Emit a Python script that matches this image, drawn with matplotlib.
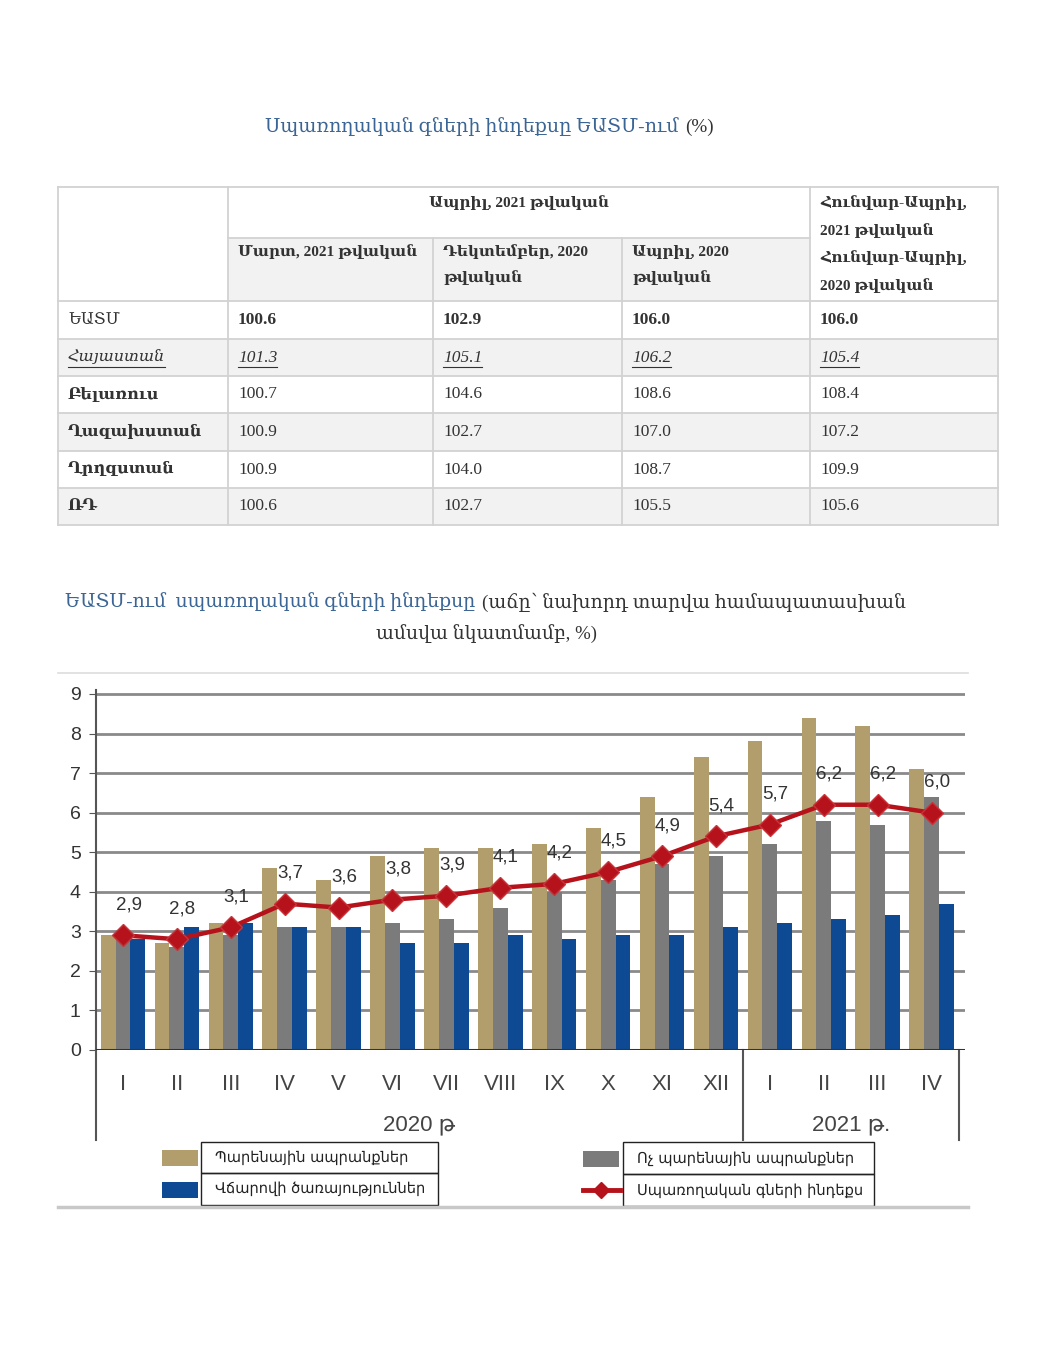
import matplotlib
matplotlib.use('Agg')
import matplotlib.pyplot as plt
from matplotlib import font_manager
from matplotlib.patches import Rectangle
from matplotlib.lines import Line2D

installed = {f.name for f in font_manager.fontManager.ttflist}


def fams(*names):
    found = [n for n in names if n in installed]
    return found or ['DejaVu Sans']


SERIF = fams('Liberation Serif', 'DejaVu Serif', 'DejaVu Sans')
NARROW = fams('Liberation Sans Narrow', 'Liberation Sans', 'DejaVu Sans')
SANS = fams('DejaVu Sans')

# --- table data ---
countries = ['ԵԱՏՄ', 'Հայաստան', 'Բելառուս', 'Ղազախստան', 'Ղրղզստան', 'ՌԴ']
vs_mar_2021 = [100.6, 101.3, 100.7, 100.9, 100.9, 100.6]
vs_dec_2020 = [102.9, 105.1, 104.6, 102.7, 104.0, 102.7]
vs_apr_2020 = [106.0, 106.2, 108.6, 107.0, 108.7, 105.5]
jan_apr = [106.0, 105.4, 108.4, 107.2, 109.9, 105.6]

# --- chart data ---
months = ['I', 'II', 'III', 'IV', 'V', 'VI', 'VII', 'VIII', 'IX', 'X', 'XI', 'XII',
          'I', 'II', 'III', 'IV']
food = [2.9, 2.7, 3.2, 4.6, 4.3, 4.9, 5.1, 5.1, 5.2, 5.6, 6.4, 7.4, 7.8, 8.4, 8.2, 7.1]
nonfood = [2.9, 2.6, 2.9, 3.1, 3.1, 3.2, 3.3, 3.6, 4.0, 4.3, 4.7, 4.9, 5.2, 5.8, 5.7, 6.4]
services = [2.8, 3.1, 3.2, 3.1, 3.1, 2.7, 2.7, 2.9, 2.8, 2.9, 2.9, 3.1, 3.2, 3.3, 3.4, 3.7]
cpi = [2.9, 2.8, 3.1, 3.7, 3.6, 3.8, 3.9, 4.1, 4.2, 4.5, 4.9, 5.4, 5.7, 6.2, 6.2, 6.0]

BLUE_T = '#3b6594'
DARK = '#333333'

fig = plt.figure(figsize=(10.42, 13.59), dpi=100)
fig.patch.set_facecolor('white')
page = fig.add_axes([0, 0, 1, 1], zorder=0)
page.set_xlim(0, 1042)
page.set_ylim(1359, 0)
page.axis('off')
renderer = fig.canvas.get_renderer()


def text_width(t):
    bb = t.get_window_extent(renderer=renderer)
    (x0, _), (x1, _) = page.transData.inverted().transform([[bb.x0, bb.y0], [bb.x1, bb.y1]])
    return x1 - x0


def rich(x, y, parts, size):
    for s, color, weight in parts:
        t = page.text(x, y, s, color=color, fontweight=weight, fontsize=size,
                      family=SERIF, va='center', ha='left')
        x += text_width(t) + 7


# titles
rich(265, 127, [('Սպառողական գների ինդեքսը ԵԱՏՄ-ում', BLUE_T, 'normal'),
                ('(%)', DARK, 'normal')], 13.8)
rich(65, 602, [('ԵԱՏՄ-ում  սպառողական գների ինդեքսը', BLUE_T, 'normal'),
               ('(աճը՝ նախորդ տարվա համապատասխան', DARK, 'normal')], 13.6)
page.text(487, 634, 'ամսվա նկատմամբ, %)', color=DARK, fontsize=13.6, family=SERIF,
          ha='center', va='center')

# --- table ---
col_x = [58, 228, 433, 622, 810, 998]
row_y = [187, 238, 301, 339, 376, 413, 451, 488, 525]
GRID = '#d2d2d2'
SHADE = '#f2f2f2'

for c in range(1, 4):
    page.add_patch(Rectangle((col_x[c], row_y[1]), col_x[c + 1] - col_x[c],
                             row_y[2] - row_y[1], color=SHADE, lw=0))
for r in (1, 3, 5):
    page.add_patch(Rectangle((col_x[0], row_y[r + 2]), col_x[-1] - col_x[0],
                             row_y[r + 3] - row_y[r + 2], color=SHADE, lw=0))

for y in row_y:
    if y == row_y[1]:
        page.plot([col_x[1], col_x[4]], [y, y], color=GRID, lw=1.3)
    else:
        page.plot([col_x[0], col_x[-1]], [y, y], color=GRID, lw=1.3)
for x in col_x:
    top = row_y[1] if x in (col_x[2], col_x[3]) else row_y[0]
    page.plot([x, x], [top, row_y[-1]], color=GRID, lw=1.3)

hdr = dict(fontsize=11, family=SERIF, fontweight='bold', color=DARK, va='center')
page.text((col_x[1] + col_x[4]) / 2, 203, 'Ապրիլ, 2021 թվական', ha='center', **hdr)
for i, s in enumerate(['Հունվար-Ապրիլ,', '2021 թվական', 'Հունվար-Ապրիլ,', '2020 թվական']):
    page.text(col_x[4] + 10, 203 + 27.5 * i, s, ha='left', **hdr)
page.text(col_x[1] + 10, 252, 'Մարտ, 2021 թվական', ha='left', **hdr)
page.text(col_x[2] + 10, 252, 'Դեկտեմբեր, 2020', ha='left', **hdr)
page.text(col_x[2] + 10, 278, 'թվական', ha='left', **hdr)
page.text(col_x[3] + 10, 252, 'Ապրիլ, 2020', ha='left', **hdr)
page.text(col_x[3] + 10, 278, 'թվական', ha='left', **hdr)

for r, name in enumerate(countries):
    yc = (row_y[r + 2] + row_y[r + 3]) / 2
    vals = [vs_mar_2021[r], vs_dec_2020[r], vs_apr_2020[r], jan_apr[r]]
    cells = [name] + [f'{v:.1f}' for v in vals]
    for c, s in enumerate(cells):
        weight = 'normal'
        style = 'normal'
        size = 12.5
        if r == 0 and c > 0:
            weight = 'bold'
        if r >= 2 and c == 0:
            weight = 'bold'
        if c == 0:
            size = 11.5
        if r == 1:
            style = 'italic'
        t = page.text(col_x[c] + 10, yc, s, fontsize=size, family=SERIF,
                      fontweight=weight, fontstyle=style, color=DARK,
                      ha='left', va='center')
        if r == 1:
            w = text_width(t)
            page.plot([col_x[c] + 10, col_x[c] + 10 + w], [yc + 9, yc + 9],
                      color=DARK, lw=0.8)

# --- chart frame ---
page.plot([58, 968], [673, 673], color='#dddddd', lw=1.2)
page.plot([58, 968], [1207, 1207], color='#c8c8c8', lw=2.5)

ax = fig.add_axes([96 / 1042, (1359 - 1050) / 1359, (965 - 96) / 1042, 360 / 1359],
                  zorder=1)
ax.patch.set_alpha(0)
x = list(range(len(months)))
bw = 0.275
ax.bar([i - bw for i in x], food, bw, color='#b19e6c', zorder=2)
ax.bar(x, nonfood, bw, color='#7b7b7b', zorder=2)
ax.bar([i + bw for i in x], services, bw, color='#0d4a93', zorder=2)
ax.plot(x, cpi, color='#b5121b', lw=3.2, marker='D', markersize=11,
        markerfacecolor='#b5121b', markeredgecolor='#c8343a', zorder=4)
for i, v in enumerate(cpi):
    ax.annotate(f'{v:.1f}'.replace('.', ','), (i, v), xytext=(4, 22),
                textcoords='offset points', ha='center', va='center',
                fontsize=13.5, family=NARROW, color=DARK, zorder=5)

ax.set_xlim(-0.5, 15.62)
ax.set_ylim(0, 9.1)
ax.set_yticks(range(10))
ax.yaxis.grid(True, color='#8a8a8a', lw=2)
ax.set_axisbelow(True)
for s in ('top', 'right', 'bottom'):
    ax.spines[s].set_visible(False)
ax.spines['left'].set_color('#555555')
ax.spines['left'].set_linewidth(1.5)
ax.axhline(0, color='#333333', lw=2.2, zorder=3)
ax.tick_params(axis='y', length=5, color='#555555', labelsize=14, labelcolor=DARK, pad=6)
ax.set_xticks(x)
ax.set_xticklabels(months)
ax.tick_params(axis='x', length=0, pad=17, labelsize=16, labelcolor='#444444')
for lab in ax.get_xticklabels() + ax.get_yticklabels():
    lab.set_family(NARROW)

for sx in (-0.5, 11.5, 15.5):
    ax.plot([sx, sx], [0, -2.28], color='#555555', lw=1.5, clip_on=False)
ax.text(5.5, -1.9, '2020 թ', ha='center', va='center', fontsize=16,
        family=NARROW, color='#444444')
ax.text(13.5, -1.9, '2021 թ.', ha='center', va='center', fontsize=16,
        family=NARROW, color='#444444')

# --- legend ---
leg = [
    ((162, 1158), 'patch', '#b19e6c', 'Պարենային ապրանքներ', (201, 1142, 438, 1173)),
    ((162, 1190), 'patch', '#0d4a93', 'Վճարովի ծառայություններ', (201, 1173, 438, 1205)),
    ((583, 1159), 'patch', '#7b7b7b', 'Ոչ պարենային ապրանքներ', (623, 1142, 874, 1174)),
    ((583, 1190), 'line', '#b5121b', 'Սպառողական գների ինդեքս', (623, 1174, 874, 1206)),
]
for (hx, hy), kind, col, label, (bx0, by0, bx1, by1) in leg:
    if kind == 'patch':
        page.add_patch(Rectangle((hx, hy - 8), 36, 16, color=col, lw=0))
    else:
        page.add_line(Line2D([hx, hx + 37], [hy, hy], color=col, lw=3.5))
        page.plot([hx + 18], [hy], marker='D', markersize=8, color=col)
    page.add_patch(Rectangle((bx0, by0), bx1 - bx0, by1 - by0, fill=False,
                             edgecolor='#222222', lw=1))
    page.text(bx0 + 14, (by0 + by1) / 2, label, fontsize=10.5, family=SANS,
              color='#222222', ha='left', va='center')

fig.savefig('out.png', dpi=100)
